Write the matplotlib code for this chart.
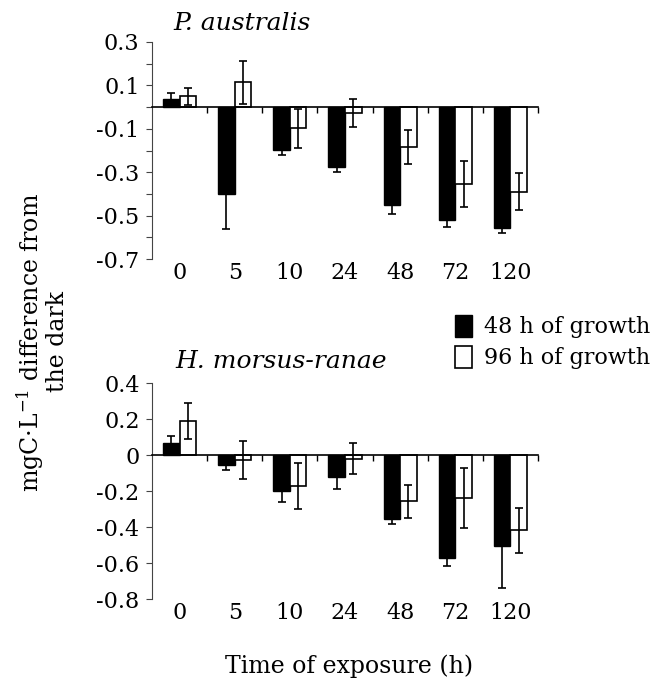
import numpy as np
import matplotlib.pyplot as plt
from matplotlib.patches import Patch
from matplotlib.ticker import FixedLocator

plt.rcParams['font.family'] = 'DejaVu Serif'
plt.rcParams['mathtext.fontset'] = 'dejavuserif'
plt.rcParams['axes.unicode_minus'] = False

# exposure times (h)
times = ['0', '5', '10', '24', '48', '72', '120']

# P. australis
pa_48 = [0.037, -0.40, -0.197, -0.276, -0.453, -0.519, -0.558]
pa_48_err = [0.03, 0.16, 0.023, 0.022, 0.04, 0.034, 0.02]
pa_96 = [0.049, 0.114, -0.098, -0.028, -0.184, -0.355, -0.389]
pa_96_err = [0.04, 0.10, 0.09, 0.065, 0.078, 0.107, 0.085]

# H. morsus-ranae
hm_48 = [0.065, -0.057, -0.198, -0.12, -0.356, -0.574, -0.504]
hm_48_err = [0.04, 0.024, 0.063, 0.067, 0.025, 0.04, 0.235]
hm_96 = [0.187, -0.026, -0.174, -0.02, -0.256, -0.241, -0.419]
hm_96_err = [0.1, 0.105, 0.127, 0.085, 0.092, 0.167, 0.123]

pa_ticks = [0.3, 0.1, -0.1, -0.3, -0.5, -0.7]
pa_ticklabels = ['0.3', '0.1', '-0.1', '-0.3', '-0.5', '-0.7']
hm_ticks = [0.4, 0.2, 0, -0.2, -0.4, -0.6, -0.8]
hm_ticklabels = ['0.4', '0.2', '0', '-0.2', '-0.4', '-0.6', '-0.8']

W, H = 664, 683
fig = plt.figure(figsize=(W / 100, H / 100), dpi=100)

ax1 = fig.add_axes([152 / W, 1 - 259 / H, 386 / W, 217 / H])
ax2 = fig.add_axes([152 / W, 1 - 599 / H, 386 / W, 216 / H])

x = np.arange(len(times))
bw = 0.3
fs = 16


def panel(ax, v48, e48, v96, e96, ylim, ticks, ticklabels, minor):
    ekw = dict(ecolor='black', elinewidth=1.2, capsize=3.2, capthick=1.2)
    ax.bar(x - bw / 2, v48, bw, color='black', edgecolor='black', lw=1.0,
           yerr=e48, error_kw=ekw, zorder=2)
    ax.bar(x + bw / 2, v96, bw, color='white', edgecolor='black', lw=1.2,
           yerr=e96, error_kw=ekw, zorder=2)
    ax.set_xlim(-0.5, len(times) - 0.5)
    ax.set_ylim(*ylim)
    ax.set_yticks(ticks)
    ax.set_yticklabels(ticklabels, fontsize=fs)
    if minor:
        ax.yaxis.set_minor_locator(FixedLocator(minor))
    ax.tick_params(axis='y', which='both', direction='out', length=4,
                   width=0.8, color='#444444', pad=5)
    for s in ['top', 'right']:
        ax.spines[s].set_visible(False)
    ax.spines['left'].set_linewidth(0.8)
    ax.spines['left'].set_color('#444444')
    # zero line with category separators
    ax.spines['bottom'].set_position(('data', 0))
    ax.spines['bottom'].set_linewidth(1.2)
    ax.spines['bottom'].set_zorder(3)
    ax.set_xticks([])
    ax.xaxis.set_minor_locator(FixedLocator(x + 0.5))
    ax.tick_params(axis='x', which='minor', direction='out', length=4, width=1.0)
    # category labels at the bottom
    sec = ax.secondary_xaxis('bottom')
    sec.spines['bottom'].set_visible(False)
    sec.set_xticks(x)
    sec.set_xticklabels(times, fontsize=fs)
    sec.tick_params(length=0, pad=2)


panel(ax1, pa_48, pa_48_err, pa_96, pa_96_err, (-0.7, 0.3),
      pa_ticks, pa_ticklabels, [0.2, 0.0, -0.2, -0.4, -0.6])
panel(ax2, hm_48, hm_48_err, hm_96, hm_96_err, (-0.8, 0.4),
      hm_ticks, hm_ticklabels, None)

fig.text(173 / W, 1 - 24 / H, 'P. australis', fontsize=18, style='italic',
         va='center', ha='left')
fig.text(175 / W, 1 - 361 / H, 'H. morsus-ranae', fontsize=18, style='italic',
         va='center', ha='left')

fig.text(42 / W, 1 - 342 / H, 'mgC·L$^{\\mathregular{-1}}$ difference from\nthe dark',
         rotation=90, fontsize=17, ha='center', va='center', multialignment='center',
         linespacing=1.0)

fig.text(349 / W, 1 - 666 / H, 'Time of exposure (h)', fontsize=17,
         ha='center', va='center')

handles = [Patch(facecolor='black', edgecolor='black'),
           Patch(facecolor='white', edgecolor='black', lw=1.2)]
fig.legend(handles, ['48 h of growth', '96 h of growth'],
           loc='center left', bbox_to_anchor=(455 / W, 1 - 342 / H),
           frameon=False, fontsize=fs, handlelength=0.75, handleheight=1.15,
           handletextpad=0.55, labelspacing=0.35, borderaxespad=0, borderpad=0)

fig.savefig('out.png', dpi=100)
